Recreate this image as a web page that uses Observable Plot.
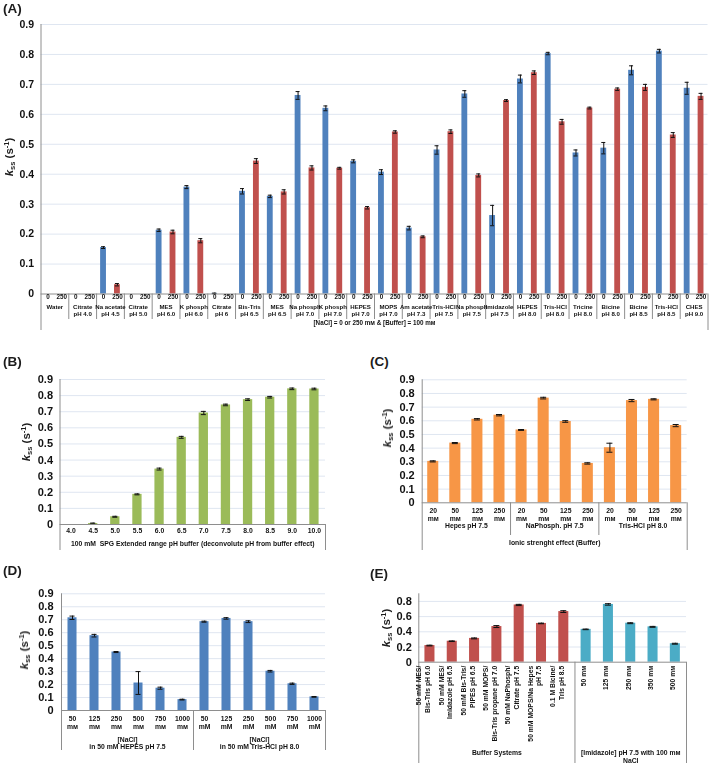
<!DOCTYPE html>
<html><head><meta charset="utf-8">
<script src="https://cdn.jsdelivr.net/npm/d3@7"></script>
<script src="https://cdn.jsdelivr.net/npm/@observablehq/plot@0.6"></script>
<style>
body{margin:0;background:#fff;}
#wrap{position:relative;width:709px;height:766px;font-family:"Liberation Sans",Arial,Helvetica,sans-serif;color:#1c1c1c;}
#wrap svg{will-change:transform;}
.ttl{position:absolute;font-weight:bold;font-size:13.5px;line-height:14px;}
.ylab{position:absolute;font-weight:bold;font-size:11.5px;line-height:12px;white-space:nowrap;transform:translate(-50%,-50%) rotate(-90deg);}
.ylab sub{font-size:7.5px;vertical-align:-2px;}
.ylab sup{font-size:7.5px;vertical-align:4px;}
svg g[aria-label="grpA"]{letter-spacing:-0.45px;}
svg g[aria-label="subA"]{letter-spacing:-0.2px;}
</style></head><body><div id="wrap"></div>
<script>
// ---------- Panel A data ----------
const buffersA = ["Water","Citrate\npH 4.0","Na acetate\npH 4.5","Citrate\npH 5.0","MES\npH 6.0","K phosph\npH 6.0","Citrate\npH 6","Bis-Tris\npH 6.5","MES\npH 6.5","Na phosph\npH 7.0","K phosph\npH 7.0","HEPES\npH 7.0","MOPS\npH 7.0","Am acetate\npH 7.3","Tris-HCl\npH 7.5","Na phosph\npH 7.5","Imidazole\npH 7.5","HEPES\npH 8.0","Tris-HCl\npH 8.0","Tricine\npH 8.0","Bicine\npH 8.0","Bicine\npH 8.5","Tris-HCl\npH 8.5","CHES\npH 9.0"];
const naclA = ["0", "250"];
const k0A   = [0, 0, 0.155, 0, 0.213, 0.357, 0.002, 0.343, 0.326, 0.663, 0.620, 0.443, 0.407, 0.220, 0.481, 0.668, 0.262, 0.718, 0.803, 0.471, 0.487, 0.747, 0.811, 0.687];
const e0A   = [0, 0, 0.003, 0, 0.004, 0.005, 0.001, 0.009, 0.004, 0.013, 0.008, 0.005, 0.008, 0.006, 0.014, 0.011, 0.034, 0.013, 0.004, 0.010, 0.019, 0.015, 0.006, 0.020];
const k250A = [0, 0, 0.031, 0, 0.207, 0.178, 0, 0.444, 0.341, 0.421, 0.420, 0.288, 0.541, 0.191, 0.542, 0.396, 0.646, 0.739, 0.575, 0.621, 0.684, 0.690, 0.531, 0.660];
const e250A = [0, 0, 0.004, 0, 0.006, 0.007, 0, 0.008, 0.007, 0.007, 0.003, 0.004, 0.004, 0.003, 0.006, 0.005, 0.003, 0.006, 0.008, 0.003, 0.004, 0.010, 0.008, 0.010];
const ticksA = [0, 0.1, 0.2, 0.3, 0.4, 0.5, 0.6, 0.7, 0.8, 0.9];
const captionA = "[NaCl] = 0 or 250 mᴍ & [Buffer] = 100 mᴍ";

// ---------- Panel B data ----------
const phB = ["4.0","4.5","5.0","5.5","6.0","6.5","7.0","7.5","8.0","8.5","9.0","10.0"];
const kB  = [0, 0.006, 0.048, 0.187, 0.344, 0.541, 0.692, 0.742, 0.775, 0.790, 0.842, 0.841];
const eB  = [0, 0.003, 0.003, 0.003, 0.006, 0.006, 0.010, 0.005, 0.005, 0.005, 0.005, 0.005];
const ticksB = [0, 0.1, 0.2, 0.3, 0.4, 0.5, 0.6, 0.7, 0.8, 0.9];
const captionB = "100 mM  SPG Extended range pH buffer (deconvolute pH from buffer effect)";

// ---------- Panel C data ----------
const buffersC = ["Hepes pH 7.5", "NaPhosph. pH 7.5", "Tris-HCl pH 8.0"];
const concC = ["20\nmᴍ", "50\nmᴍ", "125\nmᴍ", "250\nmᴍ"];
const kC = [0.303, 0.437, 0.611, 0.641, 0.533, 0.766, 0.595, 0.288, 0.403, 0.748, 0.757, 0.565];
const eC = [0.004, 0.004, 0.005, 0.005, 0.003, 0.006, 0.006, 0.005, 0.033, 0.008, 0.004, 0.008];
const ticksC = [0, 0.1, 0.2, 0.3, 0.4, 0.5, 0.6, 0.7, 0.8, 0.9];
const captionC = "Ionic strenght effect (Buffer)";

// ---------- Panel D data ----------
const buffersD = ["[NaCl]\nin 50 mM HEPES pH 7.5", "[NaCl]\nin 50 mM Tris-HCl pH 8.0"];
const naclD = ["50\nmᴍ","125\nmᴍ","250\nmᴍ","500\nmᴍ","750\nmᴍ","1000\nmᴍ","50\nmM","125\nmM","250\nmM","500\nmM","750\nmM","1000\nmM"];
const kD = [0.715, 0.577, 0.451, 0.212, 0.172, 0.084, 0.685, 0.710, 0.685, 0.303, 0.206, 0.105];
const eD = [0.013, 0.010, 0.004, 0.088, 0.008, 0.003, 0.004, 0.006, 0.007, 0.006, 0.005, 0.003];
const ticksD = [0, 0.1, 0.2, 0.3, 0.4, 0.5, 0.6, 0.7, 0.8, 0.9];

// ---------- Panel E data ----------
const groupsE = ["Buffer Systems", "[Imidazole] pH 7.5 with 100 mᴍ\nNaCl"];
const labelsE = ["50 mM MES/\nBis-Tris pH 6.0", "50 mM MES/\nImidazole pH 6.5", "50 mM Bis-Tris/\nPIPES pH 6.5", "50 mM MOPS/\nBis-Tris propane pH 7.0", "50 mM NaPhosph/\nCitrate pH 7.5", "50 mM MOPS/Na Hepes\npH 7.5", "0.1 M Bicine/\nTris pH 8.5", "50 mᴍ", "125 mᴍ", "250 mᴍ", "350 mᴍ", "500 mᴍ"];
const groupOfE = [0, 0, 0, 0, 0, 0, 0, 1, 1, 1, 1, 1];
const kE = [0.219, 0.276, 0.313, 0.469, 0.753, 0.510, 0.666, 0.432, 0.760, 0.513, 0.465, 0.243];
const eE = [0.005, 0.004, 0.006, 0.013, 0.008, 0.004, 0.012, 0.004, 0.010, 0.006, 0.006, 0.006];
const ticksE = [0, 0.2, 0.4, 0.6, 0.8];

// ---------- style ----------
const FONT = '"Liberation Sans", Arial, Helvetica, sans-serif';
const BLUE = "#4f81bd", RED = "#c0504d", GREEN = "#9bbb59", ORANGE = "#f79646", TEAL = "#4bacc6";
const GRID = "#dfe6f1", AXIS = "#8e8e8e", INK = "#111111";
const wrap = document.getElementById("wrap");

function panel(cfg) {
  const {rows, groups, width, height, mL, mR, mT, mB, yMax, ticks, pI, capW, fill, color,
         sub, grp, caption, innerExt, outerExt, tickPad, tickFont} = cfg;
  const n = rows.length;
  const step = (width - mL - mR) / n;
  const bw = step * (1 - pI);
  const inset = Math.max(0, (bw - capW) / 2);
  const fh = height - mT - mB;
  const keys = rows.map(d => d.key);
  const err = rows.filter(d => d.k > 0 && d.e > 0);
  const T = {fill: INK, fontFamily: FONT, fontWeight: "bold"};
  const marks = [
    Plot.ruleY(ticks.filter(t => t > 0), {y: d => d, stroke: GRID}),
    Plot.barY(rows, {x: "key", y: "k", fill}),
    Plot.ruleX(err, {x: "key", y1: d => d.k - d.e, y2: d => d.k + d.e, stroke: INK, strokeWidth: 1}),
    Plot.tickY(err, {x: "key", y: d => d.k + d.e, stroke: INK, strokeWidth: 1, insetLeft: inset, insetRight: inset}),
    Plot.tickY(err, {x: "key", y: d => d.k - d.e, stroke: INK, strokeWidth: 1, insetLeft: inset, insetRight: inset}),
    Plot.ruleY([0], {y: d => d, stroke: AXIS}),
    Plot.ruleX([keys[0]], {x: d => d, dx: -step / 2, stroke: AXIS, insetBottom: -outerExt}),
    Plot.ruleX([keys[n - 1]], {x: d => d, dx: step / 2, stroke: AXIS, insetTop: fh, insetBottom: -outerExt})
  ];
  if (groups.length > 1)
    marks.push(Plot.ruleX(groups.slice(1), {x: "first", dx: -step / 2, stroke: AXIS, insetTop: fh, insetBottom: -innerExt}));
  marks.push(Plot.text(rows, {x: "key", text: "lab", frameAnchor: "bottom", ...T, ...sub}));
  for (const g of groups)
    if (g.label) marks.push(Plot.text([g], {x: "first", text: "label", dx: step * (g.count - 1) / 2, frameAnchor: "bottom", ...T, ...grp}));
  if (caption) marks.push(Plot.text([caption.text], {text: d => d, frameAnchor: "bottom", ...T, ...caption.opts}));
  return Plot.plot({
    width, height, marginLeft: mL, marginRight: mR, marginTop: mT, marginBottom: mB,
    x: {domain: keys, axis: null, round: false, paddingInner: pI, paddingOuter: pI / 2, align: 0.5},
    y: {domain: [0, yMax], ticks, tickFormat: d => d === 0 ? "0" : d.toFixed(1), tickSize: 0, tickPadding: tickPad, label: null},
    color,
    style: {fontFamily: FONT, fontSize: tickFont + "px", fontWeight: "bold", color: INK, background: "transparent", overflow: "visible", maxWidth: "none"},
    marks
  });
}
function place(el, left, top) {
  el.style.position = "absolute"; el.style.left = left + "px"; el.style.top = top + "px";
  wrap.appendChild(el);
}
function title(t, left, top) {
  const d = document.createElement("div"); d.className = "ttl"; d.textContent = t; place(d, left, top);
}
function ylab(cx, cy) {
  const d = document.createElement("div"); d.className = "ylab";
  d.innerHTML = '<i>k</i><sub>ss</sub> (s<sup>-1</sup>)';
  place(d, cx, cy);
}

// ---------- Panel A ----------
const rowsA = [], grpA = [];
buffersA.forEach((b, i) => {
  grpA.push({label: b, first: `a${i}_0`, count: 2});
  rowsA.push({key: `a${i}_0`, lab: naclA[0], s: naclA[0], k: k0A[i], e: e0A[i]});
  rowsA.push({key: `a${i}_250`, lab: naclA[1], s: naclA[1], k: k250A[i], e: e250A[i]});
});
place(panel({
  rows: rowsA, groups: grpA, width: 709, height: 335, mL: 40.5, mR: 1.5, mT: 24, mB: 41.5,
  yMax: 0.9, ticks: ticksA, pI: 0.58, capW: 4, fill: "s",
  color: {domain: naclA, range: [BLUE, RED]},
  sub: {dy: 5, fontSize: 6.3, ariaLabel: "subA"},
  grp: {dy: 10.5, fontSize: 6.1, lineAnchor: "top", lineHeight: 1.15, ariaLabel: "grpA"},
  caption: {text: captionA, opts: {dy: 31, fontSize: 6.3}},
  innerExt: 25.5, outerExt: 36.5, tickPad: 7, tickFont: 10.5
}), 0, 0);
title("(A)", 3, 2);
ylab(10, 157);

// ---------- Panel B ----------
const rowsB = phB.map((p, i) => ({key: `b${i}`, lab: p, k: kB[i], e: eB[i]}));
place(panel({
  rows: rowsB, groups: [{label: "", first: "b0", count: 12}], width: 340, height: 185, mL: 59.5, mR: 15, mT: 9, mB: 31,
  yMax: 0.9, ticks: ticksB, pI: 0.58, capW: 5, fill: GREEN,
  sub: {dy: 8.7, fontSize: 6.8},
  grp: {},
  caption: {text: captionB, opts: {dy: 21, fontSize: 6.8}},
  innerExt: 26, outerExt: 26, tickPad: 7, tickFont: 11
}), 0, 370);
title("(B)", 3, 355);
ylab(27, 442);

// ---------- Panel C ----------
const rowsC = [], grpC = [];
buffersC.forEach((b, gi) => {
  grpC.push({label: b, first: `c${gi * 4}`, count: 4});
  concC.forEach((c, j) => { const i = gi * 4 + j; rowsC.push({key: `c${i}`, lab: c, k: kC[i], e: eC[i]}); });
});
place(panel({
  rows: rowsC, groups: grpC, width: 354, height: 185, mL: 66.7, mR: 22.3, mT: 9.3, mB: 52.7,
  yMax: 0.9, ticks: ticksC, pI: 0.5, capW: 6, fill: ORANGE,
  sub: {dy: 4.5, fontSize: 6.8, lineAnchor: "top", lineHeight: 1.18},
  grp: {dy: 24.7, fontSize: 6.8},
  caption: {text: captionC, opts: {dy: 41.7, fontSize: 6.8}},
  innerExt: 32.7, outerExt: 47.7, tickPad: 7.5, tickFont: 11
}), 355, 370);
title("(C)", 370, 355);
ylab(388, 428);

// ---------- Panel D ----------
const rowsD = naclD.map((c, i) => ({key: `d${i}`, lab: c, k: kD[i], e: eD[i]}));
const grpD = buffersD.map((b, gi) => ({label: b, first: `d${gi * 6}`, count: 6}));
place(panel({
  rows: rowsD, groups: grpD, width: 340, height: 186, mL: 61, mR: 15, mT: 13.3, mB: 56,
  yMax: 0.9, ticks: ticksD, pI: 0.59, capW: 5, fill: BLUE,
  sub: {dy: 5, fontSize: 6.8, lineAnchor: "top", lineHeight: 1.13},
  grp: {dy: 26, fontSize: 6.8, lineAnchor: "top", lineHeight: 1.1},
  caption: null,
  innerExt: 40, outerExt: 40, tickPad: 8, tickFont: 11
}), 0, 580);
title("(D)", 3, 564);
ylab(25, 650);

// ---------- Panel E ----------
const sE = ["buffer", "imidazole"];
const rowsE = labelsE.map((l, i) => ({key: `e${i}`, lab: l, s: sE[groupOfE[i]], k: kE[i], e: eE[i]}));
const grpE = groupsE.map((g, gi) => {
  const idx = groupOfE.indexOf(gi);
  return {label: g, first: `e${idx}`, count: groupOfE.filter(v => v === gi).length};
});
place(panel({
  rows: rowsE, groups: grpE, width: 354, height: 186, mL: 63.3, mR: 23, mT: 13.3, mB: 104.3,
  yMax: 0.9, ticks: ticksE, pI: 0.55, capW: 6, fill: "s",
  color: {domain: sE, range: [RED, TEAL]},
  sub: {dy: 3.5, fontSize: 6.8, rotate: -90, textAnchor: "end", lineHeight: 1.28},
  grp: {dy: 86.8, fontSize: 6.8, lineAnchor: "top", lineHeight: 1.2},
  caption: null,
  innerExt: 101.3, outerExt: 101.3, tickPad: 7, tickFont: 11
}), 355, 580);
title("(E)", 370, 567);
ylab(387, 628);
</script></body></html>
